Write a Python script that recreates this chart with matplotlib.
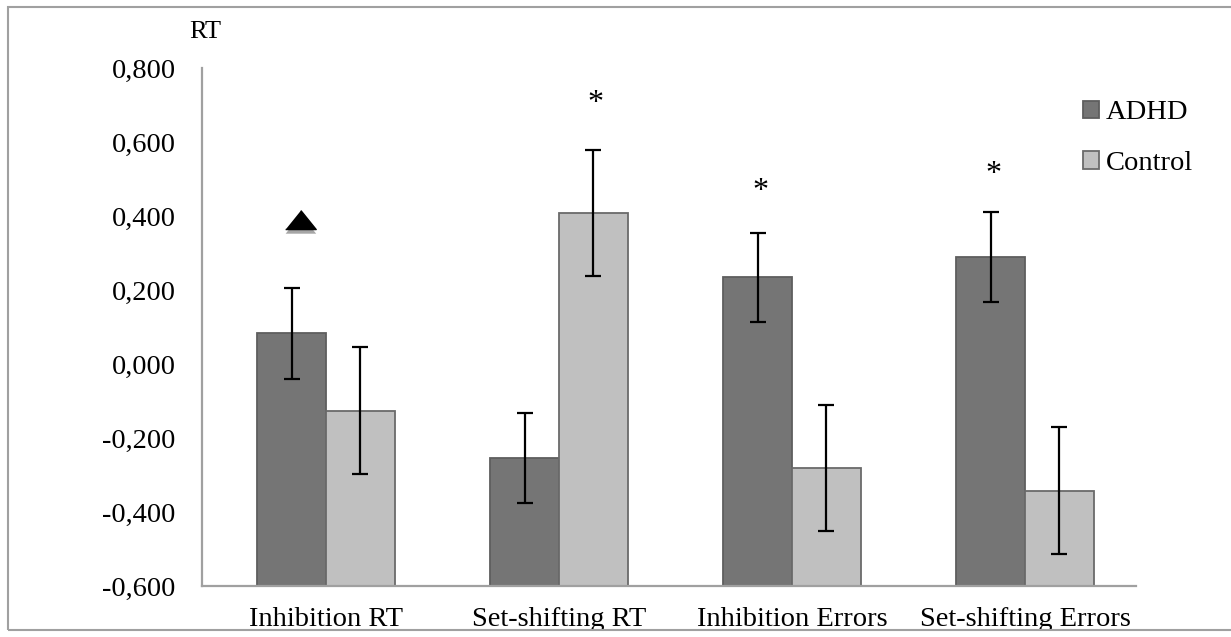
import matplotlib
matplotlib.use('Agg')
import matplotlib.pyplot as plt
import matplotlib.patches as patches
import matplotlib.patheffects as pe
import numpy as np

# data
categories = ['Inhibition RT', 'Set-shifting RT', 'Inhibition Errors', 'Set-shifting Errors']
adhd = [0.083, -0.255, 0.234, 0.289]
adhd_err = [0.123, 0.122, 0.121, 0.122]
control = [-0.126, 0.408, -0.282, -0.342]
control_err = [0.171, 0.171, 0.170, 0.172]
yticks = [-0.6, -0.4, -0.2, 0.0, 0.2, 0.4, 0.6, 0.8]

# significance marks: (category index, group offset, y)
stars = [(1, 0.5, 0.705), (2, -0.5, 0.466), (3, -0.5, 0.511)]
triangle = (0, -0.5, 0.389)

plt.rcParams['font.family'] = ['Liberation Serif', 'DejaVu Serif']

fig = plt.figure(figsize=(12.31, 6.37), dpi=100)
ax = fig.add_axes([202/1231, 51/637, 934/1231, 518/637])

x = np.arange(len(categories))
w = 0.295
base = -0.6
dark = '#757575'
light = '#c0c0c0'

ax.bar(x - w/2, np.array(adhd) - base, w, bottom=base, color=dark,
       edgecolor='#5e5e5e', linewidth=1.3, label='ADHD', zorder=2)
ax.bar(x + w/2, np.array(control) - base, w, bottom=base, color=light,
       edgecolor='#6a6a6a', linewidth=1.3, label='Control', zorder=2)
ax.errorbar(x - w/2, adhd, yerr=adhd_err, fmt='none', ecolor='black',
            elinewidth=1.6, capsize=6, capthick=1.6, zorder=3)
ax.errorbar(x + w/2, control, yerr=control_err, fmt='none', ecolor='black',
            elinewidth=1.6, capsize=6, capthick=1.6, zorder=3)

for (i, off, yy) in stars:
    ax.text(i + off*w + 0.01, yy, '*', ha='center', va='center', fontsize=23)

tri = [(-1, -0.62), (1, -0.62), (0, 0.62)]
ti, toff, ty = triangle
ax.plot([ti + toff*w + 0.04], [ty], marker=tri, markersize=22, color='black',
        linestyle='none', zorder=4,
        path_effects=[pe.SimplePatchShadow(offset=(0, -3), alpha=0.35), pe.Normal()])

ax.set_xlim(-0.532, 3.476)
ax.set_ylim(-0.6, 0.8)
ax.set_yticks(yticks)
ax.set_yticklabels([('%.3f' % v).replace('.', ',') for v in yticks])
ax.set_xticks(x)
ax.set_xticklabels(categories)
ax.tick_params(axis='both', length=0, labelsize=20.5)
ax.tick_params(axis='y', pad=19)
ax.tick_params(axis='x', pad=15)

for s in ['top', 'right']:
    ax.spines[s].set_visible(False)
for s in ['left', 'bottom']:
    ax.spines[s].set_color('#a0a0a0')
    ax.spines[s].set_linewidth(1.6)

fig.text(205/1231, 1 - 32/637, 'RT', ha='center', va='center', fontsize=19)

ax.legend(loc='upper left', bbox_to_anchor=(1072/1231, 1 - 89/637),
          bbox_transform=fig.transFigure, frameon=False, fontsize=20.5,
          handlelength=0.55, handleheight=0.55, handletextpad=0.25,
          labelspacing=0.9, borderaxespad=0)

# white strip and frame at the bottom, labels get cut like the original
fig.add_artist(patches.Rectangle((0, 0), 1, 7/637, transform=fig.transFigure,
                                 facecolor='white', edgecolor='none', zorder=10))
fig.add_artist(patches.Rectangle((8/1231, 7/637), 1.1, 623/637,
                                 transform=fig.transFigure, fill=False,
                                 edgecolor='#a0a0a0', linewidth=1.5, zorder=11))

fig.savefig('out.png', dpi=100)
